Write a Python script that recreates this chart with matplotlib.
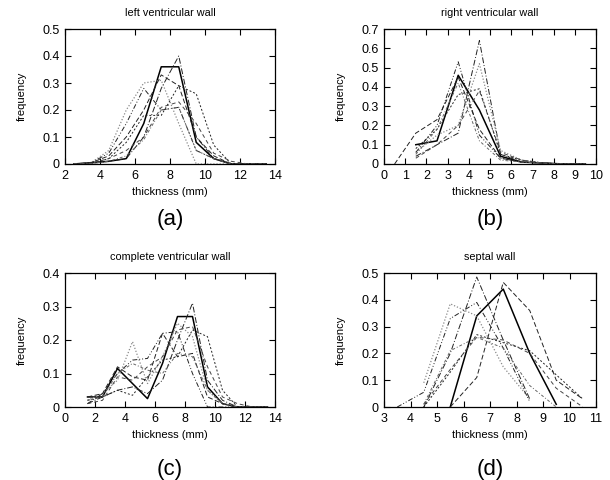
import matplotlib
matplotlib.use('Agg')
import matplotlib.pyplot as plt
import numpy as np

plt.rcParams['font.family'] = ['Liberation Sans', 'DejaVu Sans']

# (a) left ventricular wall, bins 2.5 .. 13.5
x_a = [2.5, 3.5, 4.5, 5.5, 6.5, 7.5, 8.5, 9.5, 10.5, 11.5, 12.5, 13.5]
lv = [
    [0, 0.005, 0.01, 0.02, 0.15, 0.36, 0.36, 0.08, 0.02, 0, 0, 0],
    [0, 0.002, 0.01, 0.02, 0.10, 0.28, 0.40, 0.10, 0.02, 0, 0, 0],
    [0, 0.005, 0.05, 0.20, 0.30, 0.31, 0.15, 0.0, 0, 0, 0, 0],
    [0, 0.005, 0.04, 0.15, 0.28, 0.20, 0.21, 0.05, 0.02, 0, 0, 0],
    [0, 0.005, 0.03, 0.10, 0.20, 0.33, 0.29, 0.10, 0.03, 0, 0, 0],
    [0, 0.003, 0.02, 0.08, 0.18, 0.18, 0.29, 0.26, 0.07, 0, 0, 0],
    [0, 0.003, 0.02, 0.05, 0.10, 0.21, 0.23, 0.15, 0.04, 0.01, 0, 0],
    [0, 0.002, 0.01, 0.03, 0.09, 0.20, 0.21, 0.05, 0.02, 0, 0, 0],
]

# (b) right ventricular wall, bins 0.5 .. 9.5
x_b = [0.5, 1.5, 2.5, 3.5, 4.5, 5.5, 6.5, 7.5, 8.5, 9.5]
rv = [
    [None, 0.10, 0.12, 0.46, 0.28, 0.04, 0.01, 0.005, 0, 0],
    [None, 0.04, 0.10, 0.16, 0.64, 0.05, 0.01, 0.005, 0, 0],
    [None, 0.06, 0.15, 0.20, 0.52, 0.07, 0.02, 0.005, 0, 0],
    [None, 0.06, 0.20, 0.53, 0.15, 0.03, 0.01, 0.005, 0, 0],
    [0.0, 0.16, 0.23, 0.45, 0.18, 0.03, 0.01, 0.005, 0, 0],
    [None, 0.08, 0.18, 0.36, 0.39, 0.05, 0.02, 0.005, 0, 0],
    [None, 0.03, 0.10, 0.20, 0.38, 0.06, 0.02, 0.005, 0, 0],
    [None, 0.05, 0.18, 0.42, 0.12, 0.02, 0.01, 0.005, 0, 0],
]

# (c) complete ventricular wall, bins 1.5 .. 13.5
x_c = [1.5, 2.5, 3.5, 4.5, 5.5, 6.5, 7.5, 8.5, 9.5, 10.5, 11.5, 12.5, 13.5]
cv = [
    [0.03, 0.03, 0.115, 0.07, 0.025, 0.13, 0.27, 0.27, 0.06, 0.01, 0, 0, 0],
    [0.01, 0.03, 0.05, 0.06, 0.04, 0.08, 0.20, 0.31, 0.08, 0.02, 0, 0, 0],
    [0.02, 0.04, 0.08, 0.195, 0.07, 0.15, 0.25, 0.21, 0.05, 0.01, 0, 0, 0],
    [0.01, 0.04, 0.10, 0.14, 0.145, 0.22, 0.225, 0.10, 0.0, 0, 0, 0, 0],
    [0.03, 0.04, 0.12, 0.09, 0.08, 0.22, 0.15, 0.16, 0.03, 0.01, 0, 0, 0],
    [0.02, 0.03, 0.05, 0.035, 0.09, 0.14, 0.15, 0.23, 0.21, 0.05, 0, 0, 0],
    [0.01, 0.02, 0.09, 0.08, 0.12, 0.15, 0.23, 0.24, 0.12, 0.03, 0.01, 0, 0],
    [0.02, 0.03, 0.10, 0.13, 0.11, 0.10, 0.16, 0.15, 0.05, 0.01, 0, 0, 0],
]

# (d) septal wall, bins 3.5 .. 10.5
x_d = [3.5, 4.5, 5.5, 6.5, 7.5, 8.5, 9.5, 10.5]
sw = [
    [None, None, 0.0, 0.34, 0.44, 0.20, 0.01, None],
    [None, 0.0, 0.20, 0.485, 0.25, 0.03, None, None],
    [None, 0.09, 0.385, 0.34, 0.15, 0.03, None, None],
    [0.0, 0.055, 0.33, 0.39, 0.22, 0.02, None, None],
    [None, None, 0.0, 0.11, 0.465, 0.36, 0.10, 0.03],
    [None, 0.0, 0.13, 0.27, 0.24, 0.21, 0.12, 0.03],
    [None, 0.01, 0.14, 0.26, 0.25, 0.20, 0.07, 0.0],
    [None, 0.01, 0.21, 0.26, 0.22, 0.08, 0.0, None],
]

# gnuplot-like monochrome line types
styles = [
    dict(color='black', ls='-', lw=1.1),
    dict(color='#222222', ls=(0, (6, 2, 1, 2)), lw=0.7),
    dict(color='#8a8a8a', ls=(0, (1, 1.5)), lw=0.9),
    dict(color='#222222', ls=(0, (5, 2, 1, 2, 1, 2)), lw=0.7),
    dict(color='#222222', ls=(0, (5, 2.5)), lw=0.7),
    dict(color='#222222', ls=(0, (2, 2)), lw=0.7),
    dict(color='#444444', ls=(0, (4, 3)), lw=0.7),
    dict(color='#666666', ls=(0, (3, 2, 1, 2)), lw=0.7),
]

W, H = 610, 480
fig = plt.figure(figsize=(W / 100, H / 100), dpi=100)

panels = [
    # data, x, (l, r, t, b) in px, xlim, ylim, xticks, yticks, title, tag, tag y
    (lv, x_a, (65, 275, 29, 164), (2, 14), (0, 0.5), np.arange(2, 15, 2),
     np.arange(0, 0.51, 0.1), 'left ventricular wall', '(a)', 220),
    (rv, x_b, (384, 596, 29, 164), (0, 10), (0, 0.7), np.arange(0, 11, 1),
     np.arange(0, 0.71, 0.1), 'right ventricular wall', '(b)', 220),
    (cv, x_c, (65, 275, 273, 407), (0, 14), (0, 0.4), np.arange(0, 15, 2),
     np.arange(0, 0.41, 0.1), 'complete ventricular wall', '(c)', 470),
    (sw, x_d, (384, 596, 273, 407), (3, 11), (0, 0.5), np.arange(3, 12, 1),
     np.arange(0, 0.51, 0.1), 'septal wall', '(d)', 470),
]

for data, xs, (l, r, t, b), xlim, ylim, xt, yt, title, tag, tag_y in panels:
    ax = fig.add_axes([l / W, 1 - b / H, (r - l) / W, (b - t) / H])
    for ys, st in zip(data, styles):
        y = np.array([np.nan if v is None else v for v in ys], dtype=float)
        ax.plot(xs, y, **st)
    ax.set_xlim(*xlim)
    ax.set_ylim(*ylim)
    ax.set_xticks(xt)
    ax.set_yticks(yt)
    ax.set_yticklabels(['0' if v == 0 else f'{v:.1f}' for v in yt])
    ax.tick_params(direction='in', length=4, width=0.8, top=True, right=True,
                   labelsize=9, pad=4)
    for sp in ax.spines.values():
        sp.set_linewidth(0.9)
    ax.set_xlabel('thickness (mm)', fontsize=8, labelpad=4)
    ax.set_ylabel('frequency', fontsize=8, labelpad=11)
    fig.text((l + r) / 2 / W, 1 - (t - 16) / H, title, ha='center', va='center', fontsize=7.8)
    fig.text((l + r) / 2 / W, 1 - tag_y / H, tag, ha='center', va='center', fontsize=16)

fig.savefig('out.png', dpi=100)
